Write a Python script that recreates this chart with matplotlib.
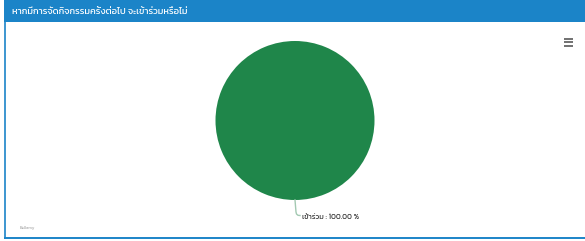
import numpy as np
import matplotlib
matplotlib.use("Agg")
import matplotlib.pyplot as plt
from matplotlib.patches import Rectangle

plt.rcParams['font.family'] = ['Kanit', 'DejaVu Sans']

TITLE = "หากมีการจัดกิจกรรมครั้งต่อไป จะเข้าร่วมหรือไม่"
labels = ["เข้าร่วม"]
values = [100.0]
colors = ["#1f864a"]
CREDIT = "Bellamy"

W, H = 585, 241
BLUE = "#1b84c8"

fig = plt.figure(figsize=(W / 100, H / 100), dpi=100)
fig.patch.set_facecolor("white")

# frame / header in pixel coords
bg = fig.add_axes([0, 0, 1, 1])
bg.set_xlim(0, W)
bg.set_ylim(H, 0)
bg.axis("off")
bg.add_patch(Rectangle((4, 0), W - 4, 22, color=BLUE, lw=0))
bg.plot([4.5, 4.5], [0, 239], color=BLUE, lw=1.2, solid_capstyle="butt")
bg.plot([4, W], [238.2, 238.2], color=BLUE, lw=1.4, solid_capstyle="butt")
bg.text(12, 11.5, TITLE, color="white", fontsize=6.7, va="center", ha="left")

# menu icon
for yy in [38.5, 42, 45.5]:
    bg.plot([564, 573], [yy, yy], color="#666666", lw=1.3, solid_capstyle="butt")

bg.text(20, 227.5, CREDIT, color="#aaaaaa", fontsize=3, va="center", ha="left")

# pie
cx, cy, r = 295, 120.5, 79.5
ax = fig.add_axes([(cx - r) / W, (H - cy - r) / H, 2 * r / W, 2 * r / H])
wedges, _ = ax.pie(values, colors=colors, startangle=90, counterclock=False,
                   radius=1, wedgeprops=dict(linewidth=0))
ax.set_xlim(-1, 1)
ax.set_ylim(-1, 1)
ax.axis("off")

px = 1 / r
for w, lab, v in zip(wedges, labels, values):
    mid = np.deg2rad((w.theta1 + w.theta2) / 2)
    x0, y0 = np.cos(mid), np.sin(mid)
    xs = [x0, x0 + 1 * px, x0 + 1.5 * px, x0 + 3 * px, x0 + 5 * px]
    ys = [y0, y0 - 12 * px, y0 - 14 * px, y0 - 15.3 * px, y0 - 15.5 * px]
    ax.plot(xs, ys, color="#a3c9b2", lw=1.0, clip_on=False)
    ax.text(x0 + 7.5 * px, y0 - 16.5 * px, f"{lab} : {v:.2f} %", fontsize=5.3,
            color="#333333", va="center", ha="left", clip_on=False)

fig.savefig("out.png", dpi=100)
